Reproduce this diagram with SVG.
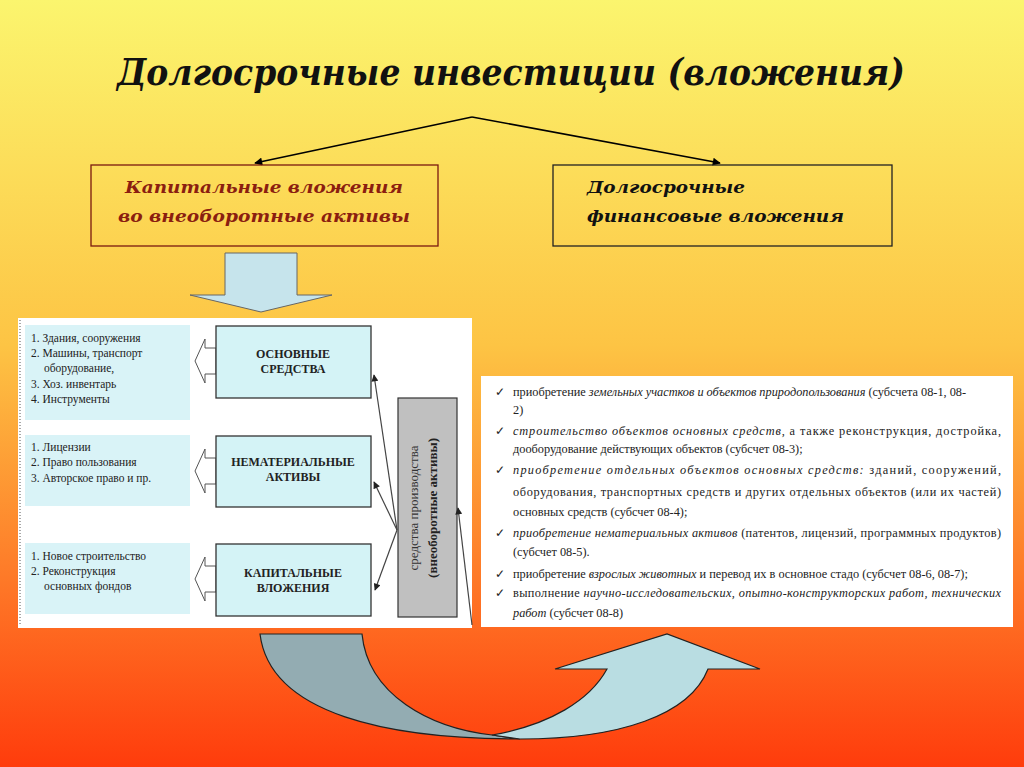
<svg xmlns="http://www.w3.org/2000/svg" width="1024" height="767" viewBox="0 0 1024 767">
<defs>
<linearGradient id="bg" x1="0" y1="0" x2="0" y2="1">
<stop offset="0" stop-color="#fbf56e"/>
<stop offset="0.45" stop-color="#fdc444"/>
<stop offset="0.75" stop-color="#fe7a28"/>
<stop offset="1" stop-color="#ff3c0c"/>
</linearGradient>
<marker id="ah" viewBox="0 0 10 10" refX="9" refY="5" markerWidth="10" markerHeight="8" orient="auto" markerUnits="userSpaceOnUse"><path d="M0,0 L10,5 L0,10 Z" fill="#000"/></marker>
<marker id="ah2" viewBox="0 0 10 10" refX="9" refY="5" markerWidth="9" markerHeight="7" orient="auto" markerUnits="userSpaceOnUse"><path d="M0,0 L10,5 L0,10 Z" fill="#222"/></marker>
</defs>
<style>
.t{font-family:"Liberation Serif","DejaVu Serif",serif}
.bi{font-family:"DejaVu Serif Condensed","DejaVu Serif","Liberation Serif",serif;font-weight:bold;font-style:italic}
.lst{font-family:"Liberation Serif",serif;font-size:11.5px;fill:#222}
.mb{fill:#d4f3f6;stroke:#333;stroke-width:1.3}
.lb{fill:#d9f3f7}
.mt{font-family:"Liberation Serif",serif;font-size:12px;font-weight:bold;fill:#222;text-anchor:middle}
.rt{font-family:"Liberation Serif",serif;font-size:12.3px;fill:#222}
.oa{fill:#fff;stroke:#555;stroke-width:1}
</style>
<rect width="1024" height="767" fill="url(#bg)"/>
<text class="bi" x="117" y="85" font-size="38" textLength="788" lengthAdjust="spacingAndGlyphs" fill="#111">Долгосрочные инвестиции (вложения)</text>
<g id="connectors" stroke="#000" stroke-width="1.6" fill="none">
<line x1="472" y1="117" x2="255" y2="163" marker-end="url(#ah)"/>
<line x1="472" y1="117" x2="720" y2="163" marker-end="url(#ah)"/>
</g>
<g id="box1"><rect x="91" y="165" width="347" height="81" fill="none" stroke="#7a1a10" stroke-width="1.3"/>
<text class="bi" x="125" y="193" font-size="17" textLength="278" lengthAdjust="spacingAndGlyphs" fill="#8b1e10">Капитальные вложения</text>
<text class="bi" x="118" y="222" font-size="17" textLength="292" lengthAdjust="spacingAndGlyphs" fill="#8b1e10">во внеоборотные активы</text></g>
<g id="box2"><rect x="553" y="165" width="339" height="81" fill="none" stroke="#222" stroke-width="1.3"/>
<text class="bi" x="587" y="193" font-size="17" textLength="158" lengthAdjust="spacingAndGlyphs" fill="#111">Долгосрочные</text>
<text class="bi" x="587" y="222" font-size="17" textLength="257" lengthAdjust="spacingAndGlyphs" fill="#111">финансовые вложения</text></g>
<g id="downarrow"><path d="M225,253 L297,253 L297,295 L332,295 L261,312 L190,295 L225,295 Z" fill="#c6e4ec" stroke="#666" stroke-width="1"/></g>
<g id="leftpanel">
<rect x="18" y="318" width="454" height="310" fill="#fff"/>
<line x1="20" y1="320" x2="20" y2="626" stroke="#555" stroke-dasharray="1,2"/>
<rect class="lb" x="25" y="325" width="165" height="95"/>
<rect class="lb" x="25" y="435" width="165" height="71"/>
<rect class="lb" x="25" y="543" width="165" height="71"/>
<text class="lst"><tspan x="31" y="342">1. Здания, сооружения</tspan><tspan x="31" y="357">2. Машины, транспорт</tspan><tspan x="44" y="372">оборудование,</tspan><tspan x="31" y="388">3. Хоз. инвентарь</tspan><tspan x="31" y="403">4. Инструменты</tspan></text>
<text class="lst"><tspan x="31" y="451">1. Лицензии</tspan><tspan x="31" y="466">2. Право пользования</tspan><tspan x="31" y="482">3. Авторское право и пр.</tspan></text>
<text class="lst"><tspan x="31" y="560">1. Новое строительство</tspan><tspan x="31" y="575">2. Реконструкция</tspan><tspan x="44" y="590">основных фондов</tspan></text>
<path class="oa" d="M216,348 L205,348 L205,339 L195,361 L205,383 L205,374 L216,374 Z"/>
<path class="oa" d="M216,458 L205,458 L205,449 L195,471 L205,493 L205,484 L216,484 Z"/>
<path class="oa" d="M216,566 L205,566 L205,557 L195,579 L205,601 L205,592 L216,592 Z"/>
<g id="os"><rect class="mb" x="216" y="326" width="155" height="72"/><text class="mt" x="293" y="358">ОСНОВНЫЕ</text><text class="mt" x="293" y="373">СРЕДСТВА</text></g>
<g id="na"><rect class="mb" x="216" y="436" width="155" height="71"/><text class="mt" x="293" y="466">НЕМАТЕРИАЛЬНЫЕ</text><text class="mt" x="293" y="481">АКТИВЫ</text></g>
<g id="kv"><rect class="mb" x="216" y="544" width="155" height="72"/><text class="mt" x="293" y="577">КАПИТАЛЬНЫЕ</text><text class="mt" x="293" y="592">ВЛОЖЕНИЯ</text></g>
<g id="sp"><rect x="398" y="398" width="59" height="219" fill="#c0c0c0" stroke="#333" stroke-width="1.2"/>
<text class="t" transform="translate(418,508) rotate(-90)" font-size="13" fill="#333" text-anchor="middle">средства производства</text>
<text class="t" transform="translate(437,508) rotate(-90)" font-size="13" font-weight="bold" fill="#222" text-anchor="middle">(внеоборотные активы)</text></g>
<g stroke="#444" stroke-width="1.2" fill="none">
<line x1="397" y1="530" x2="374" y2="375" marker-end="url(#ah2)"/>
<line x1="397" y1="530" x2="374" y2="482" marker-end="url(#ah2)"/>
<line x1="397" y1="530" x2="375" y2="590" marker-end="url(#ah2)"/>
<line x1="472" y1="625" x2="458" y2="508" marker-end="url(#ah2)"/>
</g>
</g>
<g id="rightpanel">
<rect x="481" y="376" width="532" height="251" fill="#fff"/>
<text class="rt">
<tspan x="495" y="396">✓</tspan><tspan x="513" y="396">приобретение <tspan font-style="italic">земельных участков и объектов природопользования</tspan> (субсчета 08-1, 08-</tspan>
<tspan x="513" y="414">2)</tspan>
<tspan x="495" y="435">✓</tspan><tspan x="513" y="435" textLength="488" lengthAdjust="spacing"><tspan font-style="italic">строительство объектов основных средств</tspan>, а также реконструкция, достройка,</tspan>
<tspan x="513" y="453">дооборудование действующих объектов (субсчет 08-3);</tspan>
<tspan x="495" y="474">✓</tspan><tspan x="513" y="474" textLength="488" lengthAdjust="spacing"><tspan font-style="italic">приобретение отдельных объектов основных средств:</tspan> зданий, сооружений,</tspan>
<tspan x="513" y="496" textLength="488" lengthAdjust="spacing">оборудования, транспортных средств и других отдельных объектов (или их частей)</tspan>
<tspan x="513" y="516">основных средств (субсчет 08-4);</tspan>
<tspan x="495" y="537">✓</tspan><tspan x="513" y="537" textLength="488" lengthAdjust="spacing"><tspan font-style="italic">приобретение нематериальных активов</tspan> (патентов, лицензий, программных продуктов)</tspan>
<tspan x="513" y="556">(субсчет 08-5).</tspan>
<tspan x="495" y="578">✓</tspan><tspan x="513" y="578">приобретение <tspan font-style="italic">взрослых животных</tspan> и перевод их в основное стадо (субсчет 08-6, 08-7);</tspan>
<tspan x="495" y="597">✓</tspan><tspan x="513" y="597" textLength="488" lengthAdjust="spacing">выполнение <tspan font-style="italic">научно-исследовательских, опытно-конструкторских работ, технических</tspan></tspan>
<tspan x="513" y="617"><tspan font-style="italic">работ</tspan> (субсчет 08-8)</tspan>
</text>
</g>
<g id="curvearrow" stroke="#222" stroke-width="1.2">
<path d="M260,634 L362,634 C368,695 430,728 492,735 L520,739 C390,739 270,715 260,634 Z" fill="#93acb2"/>
<path d="M492,735 C550,725 590,700 607,669 L555,669 L667,634 L760,669 L708,669 C690,715 620,739 520,739 Z" fill="#b9dde2"/>
</g>
</svg>
